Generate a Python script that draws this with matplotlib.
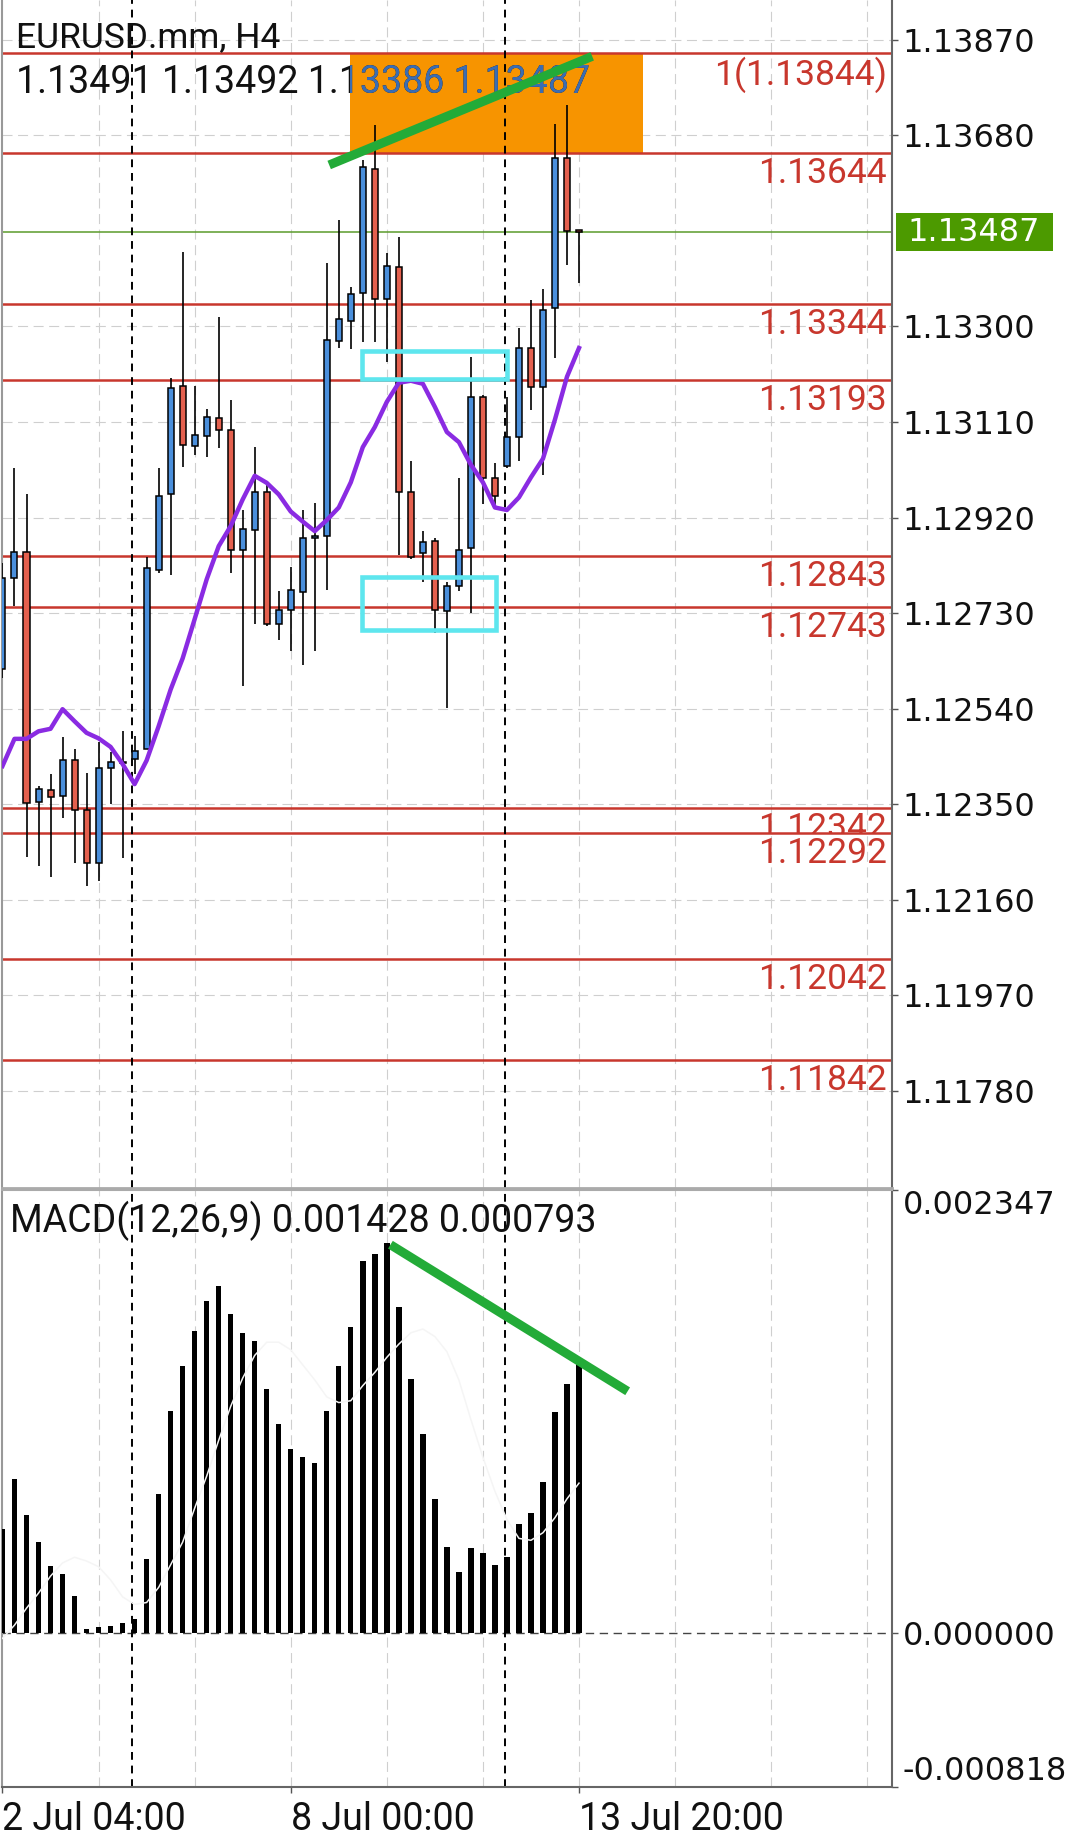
import numpy as np
import matplotlib.pyplot as plt
import matplotlib.transforms as mtransforms
from matplotlib.patches import Rectangle

# EURUSD H4 candles
opens = [1.12619, 1.12799, 1.12851, 1.12355, 1.12378, 1.12367, 1.12438, 1.12339, 1.12234, 1.12422,
         1.12432, 1.12440, 1.12459, 1.12815, 1.12967, 1.13181, 1.13062, 1.13082, 1.13117, 1.13094,
         1.12856, 1.12896, 1.12970, 1.12709, 1.12736, 1.12772, 1.12880, 1.12883, 1.13272, 1.13310,
         1.13367, 1.13613, 1.13355, 1.13418, 1.12971, 1.12849, 1.12874, 1.12735, 1.12784, 1.12860,
         1.13159, 1.12998, 1.13023, 1.13080, 1.13257, 1.13180, 1.13337, 1.13634, 1.13491]
highs = [1.12830, 1.13019, 1.12967, 1.12386, 1.12410, 1.12484, 1.12459, 1.12413, 1.12473, 1.12453,
         1.12496, 1.12486, 1.12841, 1.13019, 1.13197, 1.13447, 1.13182, 1.13136, 1.13319, 1.13154,
         1.12936, 1.13060, 1.12986, 1.12773, 1.12821, 1.12935, 1.12948, 1.13426, 1.13512, 1.13379,
         1.13631, 1.13700, 1.13446, 1.13478, 1.13033, 1.12894, 1.12880, 1.12792, 1.12998, 1.13239,
         1.13163, 1.13029, 1.13160, 1.13296, 1.13353, 1.13375, 1.13703, 1.13740, 1.13492]
lows = [1.12600, 1.12745, 1.12246, 1.12227, 1.12206, 1.12323, 1.12234, 1.12187, 1.12197, 1.12350,
        1.12244, 1.12410, 1.12459, 1.12810, 1.12805, 1.13021, 1.13044, 1.13041, 1.13058, 1.12809,
        1.12585, 1.12709, 1.12705, 1.12677, 1.12655, 1.12627, 1.12654, 1.12775, 1.13257, 1.13255,
        1.13270, 1.13270, 1.13230, 1.12845, 1.12838, 1.12792, 1.12690, 1.12542, 1.12774, 1.12730,
        1.12947, 1.12943, 1.13018, 1.13033, 1.13133, 1.13004, 1.13237, 1.13422, 1.13386]
closes = [1.12799, 1.12851, 1.12353, 1.12380, 1.12365, 1.12438, 1.12339, 1.12234, 1.12423, 1.12433,
          1.12434, 1.12456, 1.12820, 1.12962, 1.13178, 1.13064, 1.13085, 1.13119, 1.13094, 1.12856,
          1.12897, 1.12970, 1.12709, 1.12736, 1.12775, 1.12880, 1.12883, 1.13274, 1.13314, 1.13364,
          1.13617, 1.13355, 1.13420, 1.12971, 1.12841, 1.12872, 1.12737, 1.12784, 1.12855, 1.13160,
          1.12998, 1.12963, 1.13080, 1.13257, 1.13179, 1.13333, 1.13635, 1.13489, 1.13487]
ma = [1.12426, 1.12480, 1.12480, 1.12495, 1.12500, 1.12539, 1.12515, 1.12492, 1.12481, 1.12464,
      1.12430, 1.12390, 1.12437, 1.12505, 1.12578, 1.12640, 1.12718, 1.12797, 1.12863, 1.12903,
      1.12956, 1.13003, 1.12989, 1.12966, 1.12932, 1.12912, 1.12893, 1.12915, 1.12940, 1.12990,
      1.13060, 1.13100, 1.13150, 1.13188, 1.13192, 1.13186, 1.13140, 1.13090, 1.13070, 1.13025,
      1.12990, 1.12940, 1.12935, 1.12960, 1.13000, 1.13037, 1.13115, 1.13200, 1.13257]

# MACD(12,26,9)
hist = [0.000549, 0.000817, 0.000623, 0.000481, 0.000351, 0.000310, 0.000192, 0.000020, 0.000028, 0.000037,
        0.000049, 0.000072, 0.000390, 0.000737, 0.001178, 0.001416, 0.001598, 0.001760, 0.001836, 0.001690,
        0.001589, 0.001545, 0.001293, 0.001104, 0.000972, 0.000933, 0.000901, 0.001178, 0.001416, 0.001621,
        0.001968, 0.002007, 0.002065, 0.001727, 0.001346, 0.001055, 0.000707, 0.000457, 0.000323, 0.000451,
        0.000420, 0.000358, 0.000399, 0.000575, 0.000637, 0.000801, 0.001169, 0.001321, 0.001428]
signal = [-0.00003, 0.00004, 0.00013, 0.00021, 0.00030, 0.00037, 0.00040, 0.00038, 0.00035, 0.00028,
          0.00019, 0.00015, 0.00016, 0.00024, 0.00036, 0.00048, 0.00066, 0.00083, 0.00102, 0.00120,
          0.00135, 0.00147, 0.00154, 0.00154, 0.00150, 0.00142, 0.00134, 0.00125, 0.00122, 0.00123,
          0.00131, 0.00138, 0.00146, 0.00153, 0.00159, 0.00161, 0.00157, 0.00149, 0.00134, 0.00113,
          0.00093, 0.00075, 0.00060, 0.00050, 0.00049, 0.00053, 0.00061, 0.00071, 0.000793]

levels = [1.13844, 1.13644, 1.13344, 1.13193, 1.12843, 1.12743, 1.12342, 1.12292, 1.12042, 1.11842]
level_labels = ['1(1.13844)', '1.13644', '1.13344', '1.13193', '1.12843', '1.12743',
                '1.12342', '1.12292', '1.12042', '1.11842']
price_ticks = [1.11780, 1.11970, 1.12160, 1.12350, 1.12540, 1.12730, 1.12920, 1.13110, 1.13300, 1.13680, 1.13870]
macd_ticks = [-0.000818, 0.0, 0.002347]
date_pos = [0, 24, 48]
date_labels = ['2 Jul 04:00', '8 Jul 00:00', '13 Jul 20:00']
session_lines = [10.8, 41.85]

# drawn objects (bar index / price)
zone = (28.9, 53.3, 1.13644, 1.13844)
box_hi = (29.9, 42.0, 1.13196, 1.13251)
box_lo = (29.9, 41.1, 1.12697, 1.12801)
trend_price = ([27.2, 49.1], [1.13621, 1.13837])
trend_macd = ([32.3, 52.05], [0.002057, 0.00128])

W, H = 1080, 1835
BLUE, RED = '#4a8fdc', '#e4604e'
LRED = '#c8372d'
GRID = dict(color='#cfcfcf', lw=0.8, ls=(0, (9, 5)))

fig = plt.figure(figsize=(W / 100, H / 100), dpi=100)
ax = fig.add_axes([2 / W, 1 - 1188 / H, 890 / W, 1188 / H])
ax2 = fig.add_axes([2 / W, 1 - 1787 / H, 890 / W, (1787 - 1190) / H])

x = np.arange(len(opens))
o, h, l, c = map(np.array, (opens, highs, lows, closes))

for a in (ax, ax2):
    a.set_xlim(-0.04, 74.06)
    for gx in np.arange(8, 74, 8):
        a.axvline(gx, zorder=0, **GRID)
    for sx in session_lines:
        a.axvline(sx, color='black', lw=1.4, ls=(0, (4, 3)), zorder=2.5)

# ---- price panel
ax.set_ylim(1.11587, 1.13949)
ax.set_yticks(price_ticks)
ax.set_yticklabels([f'{v:.5f}' for v in price_ticks])
ax.grid(axis='y', zorder=0, **GRID)
ax.set_axisbelow(True)
ax.set_xticks([])

rect = Rectangle((zone[0], zone[2]), zone[1] - zone[0], zone[3] - zone[2],
                 fc='#f79400', ec='none', zorder=1.5)
ax.add_patch(rect)

for lv in levels:
    ax.axhline(lv, color=LRED, lw=1.8, zorder=2)
ax.axhline(closes[-1], color='#5b9b2b', lw=1.1, zorder=2)

ax.vlines(x, l, h, color='black', lw=1.2, zorder=3)
ax.bar(x, np.abs(c - o), bottom=np.minimum(o, c), width=0.5,
       color=np.where(c >= o, BLUE, RED), edgecolor='black', lw=1.1, zorder=4)
ax.plot(x, ma, color='#8a2be2', lw=3.2, zorder=5)

for b in (box_hi, box_lo):
    ax.add_patch(Rectangle((b[0], b[2]), b[1] - b[0], b[3] - b[2], fill=False,
                           ec='#5ee6ee', lw=3.3, zorder=6))

# header text, the part over the orange zone shows blue
hdr = f'{opens[-1]:.5f} {highs[-1]:.5f} {lows[-1]:.5f} {closes[-1]:.5f}'
ax.text(16 / W, 1 - 47 / H, 'EURUSD.mm, H4', transform=fig.transFigure, fontsize=25.5,
        family='Roboto', color='#111111', va='baseline', zorder=7)
ax.text(16 / W, 1 - 93 / H, hdr, transform=fig.transFigure, fontsize=27,
        family='Roboto', color='#111111', va='baseline', zorder=7)
tb = ax.text(16 / W, 1 - 93 / H, hdr, transform=fig.transFigure, fontsize=27,
             family='Roboto', color='#3b6db3', va='baseline', zorder=7.5)
tb.set_clip_on(True)
tb.set_clip_box(None)
tb.set_clip_path(rect)

ax.plot(*trend_price, color='#23ab38', lw=6.5, solid_capstyle='butt', zorder=8)

blend = mtransforms.blended_transform_factory(ax.transAxes, ax.transData)
lab_tr = mtransforms.offset_copy(blend, fig=fig, x=0, y=-4, units='dots')
for lv, lab in zip(levels, level_labels):
    t = ax.text(0.9944, lv, lab, transform=lab_tr, ha='right', va='top', color=LRED,
                fontsize=25.5, family='Roboto', zorder=9)
    if lab == '1.12342':
        # hidden below the next line, as in the terminal
        clip = Rectangle((0, 1.12292), 1, 0.001, transform=blend)
        t.set_clip_on(True)
        t.set_clip_box(None)
        t.set_clip_path(clip)

# current price box
bt = mtransforms.blended_transform_factory(fig.transFigure, ax.transData)
px = (1.13949 - 1.11587) / 1188
ax.add_patch(Rectangle((896 / W, closes[-1] - 19 * px), 157 / W, 38 * px, transform=bt,
                       fc='#4c9a00', ec='none', clip_on=False, zorder=10))
ax.text(974 / W, closes[-1], f'{closes[-1]:.5f}', transform=bt, ha='center', va='center',
        color='white', fontsize=23, family='DejaVu Sans', clip_on=False, zorder=11)

ax.yaxis.tick_right()
ax.tick_params(axis='y', length=4.5, width=1, color='#555555', labelsize=23, pad=3,
               labelcolor='#111111', labelfontfamily='DejaVu Sans')
ax.spines['top'].set_visible(False)
ax.spines['left'].set_color('#999999')
ax.spines['left'].set_linewidth(1.5)
ax.spines['right'].set_color('#666666')
ax.spines['right'].set_linewidth(1.5)
ax.spines['bottom'].set_color('#aaaaaa')
ax.spines['bottom'].set_linewidth(2)

# ---- MACD panel
ax2.set_ylim(-0.000818, 0.002347)
ax2.axhline(0, color='#444444', lw=1, ls=(0, (6, 4)), zorder=1)
ax2.bar(x, hist, width=0.45, color='black', zorder=3)
ax2.plot(x, signal, color='#f5f5f5', lw=1.1, zorder=4)
ax2.plot(*trend_macd, color='#23ab38', lw=6.5, solid_capstyle='butt', zorder=8)
ax2.text(10 / W, 1 - 1232 / H, f'MACD(12,26,9) {hist[-1]:.6f} {signal[-1]:.6f}',
         transform=fig.transFigure, fontsize=27, family='Roboto', color='#111111',
         va='baseline', zorder=9)

ax2.yaxis.tick_right()
ax2.set_yticks(macd_ticks)
ax2.set_yticklabels([f'{v:.6f}' for v in macd_ticks])
ax2.tick_params(axis='y', length=4.5, width=1, color='#555555', labelsize=23, pad=3,
                labelcolor='#111111', labelfontfamily='DejaVu Sans')
yl = ax2.get_yticklabels()
yl[0].set_va('bottom')
yl[2].set_va('top')

ax2.set_xticks(date_pos)
ax2.set_xticklabels(date_labels, ha='left')
ax2.tick_params(axis='x', length=4, width=1, color='#555555', labelsize=27, pad=6,
                labelcolor='#111111', labelfontfamily='Roboto')
for s in ax2.spines.values():
    s.set_linewidth(1.5)
ax2.spines['top'].set_color('#aaaaaa')
ax2.spines['left'].set_color('#999999')
ax2.spines['right'].set_color('#666666')
ax2.spines['bottom'].set_color('#666666')

fig.savefig('out.png', dpi=100, facecolor='white')
